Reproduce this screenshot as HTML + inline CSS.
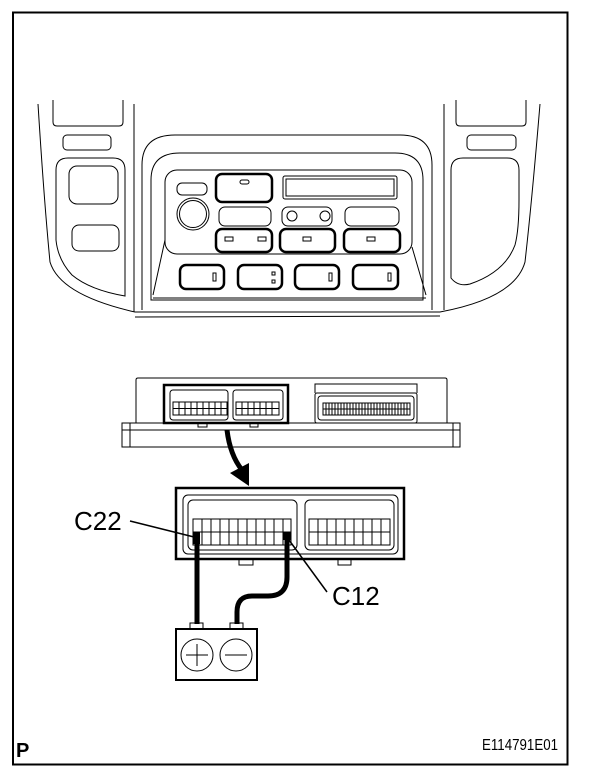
<!DOCTYPE html>
<html><head><meta charset="utf-8"><style>
html,body{margin:0;padding:0;background:#fff;}
svg{display:block;}
text{font-family:"Liberation Sans",Arial,sans-serif;fill:#000;}
</style></head><body>
<svg width="608" height="778" viewBox="0 0 608 778" xmlns="http://www.w3.org/2000/svg">
<rect x="13" y="12.5" width="554.5" height="752" fill="none" stroke="#000" stroke-width="2"/>
<g fill="none" stroke="#000" stroke-width="1">
<!-- dashboard -->
<path d="M38 104 Q44 200 50 262 Q60 295 135 312 L440 312 Q515 298 525 262 Q532 200 540 104"/>
<path d="M134 104 L134 312 M444 104 L444 310"/>
<path d="M135 317 L440 316"/>
<path d="M53 100 L53 122 Q53 126 57 126 L119 126 Q123 126 123 122 L123 100"/>
<path d="M456 100 L456 122 Q456 126 460 126 L522 126 Q526 126 526 122 L526 100"/>
<rect x="63" y="135" width="48" height="15" rx="4"/>
<rect x="467" y="135" width="49" height="15" rx="4"/>
<path d="M56 170 Q56 158 68 158 L113 158 Q125 158 125 170 L125 296 Q90 290 72 275 Q58 260 56 240 Z"/>
<path d="M519 170 Q519 158 507 158 L463 158 Q451 158 451 170 L451 278 Q458 287 470 284 Q505 272 515 245 Q519 230 519 200 Z"/>
<rect x="69" y="166" width="49" height="38" rx="8"/>
<rect x="72" y="225" width="47" height="26" rx="7"/>
<!-- bezel -->
<path d="M142 310 L142 165 Q142 135 175 135 L400 135 Q432 135 432 165 L432 310"/>
<path d="M151 300 L151 180 Q151 153 180 153 L395 153 Q423 153 423 180 L423 300 Z"/>
<rect x="165" y="170" width="247" height="84" rx="12"/>
<path d="M165 240 L153 295 M412 247 L426 295 M153 298 L426 298"/>
<rect x="177" y="183" width="30" height="12" rx="5"/>
<circle cx="193" cy="214" r="16"/><circle cx="193" cy="214" r="13.5"/>
<rect x="283" y="176" width="114" height="23" rx="2"/><rect x="286" y="179" width="108" height="17"/>
<rect x="219" y="207" width="52" height="19" rx="6"/>
<rect x="282" y="207" width="50" height="19" rx="6"/>
<circle cx="292" cy="216" r="5"/><circle cx="325" cy="216" r="5"/>
<rect x="345" y="207" width="54" height="19" rx="6"/>
</g>
<g fill="none" stroke="#000" stroke-width="2.5">
<rect x="216" y="174" width="56" height="28" rx="6"/>
<rect x="216" y="229" width="56" height="23" rx="6"/>
<rect x="280" y="229" width="55" height="23" rx="6"/>
<rect x="344" y="229" width="56" height="23" rx="6"/>
<rect x="180" y="265" width="44" height="24" rx="6"/>
<rect x="238" y="265" width="44" height="24" rx="6"/>
<rect x="295" y="265" width="44" height="24" rx="6"/>
<rect x="353" y="265" width="45" height="24" rx="6"/>
</g>
<g fill="none" stroke="#000" stroke-width="1">
<rect x="240" y="180" width="9" height="4" rx="2"/>
<rect x="225" y="237" width="8" height="4"/><rect x="258" y="237" width="8" height="4"/>
<rect x="303" y="237" width="8" height="4"/><rect x="367" y="237" width="8" height="4"/>
<rect x="213" y="273" width="3" height="8"/><rect x="329" y="273" width="3" height="8"/><rect x="388" y="273" width="3" height="8"/>
<rect x="272" y="272" width="3" height="3"/><rect x="272" y="280" width="3" height="3"/>
<!-- ECU module -->
<path d="M136 423 L136 380 Q136 378 138 378 L445 378 Q447 378 447 380 L447 423"/>
<rect x="122" y="423" width="338" height="24"/>
<path d="M130 423 L130 447 M453 423 L453 447 M122 430 L460 430"/>
<path d="M315 393 L315 384 L417 384 L417 393"/>
<rect x="315" y="393" width="102" height="30" rx="2"/>
<rect x="318" y="396" width="96" height="24" rx="3"/>
<rect x="323" y="403" width="87" height="12"/>
</g>
<rect x="164" y="385" width="124" height="38" fill="none" stroke="#000" stroke-width="2.5"/>
<g fill="none" stroke="#000" stroke-width="1">
<rect x="170" y="390" width="58" height="30" rx="3"/>
<rect x="233" y="390" width="50" height="30" rx="3"/>
<rect x="173" y="402" width="54" height="13"/>
<rect x="236" y="402" width="43" height="13"/>
<path d="M198 423 L198 427 L207 427 L207 423 M250 423 L250 427 L258 427 L258 423"/>
<path d="M173 408.5 H227 M236 408.5 H279 M323 409 H410"/>
<path d="M179 402V415M185 402V415M191 402V415M197 402V415M203 402V415M209 402V415M215 402V415M221 402V415M242 402V415M248 402V415M254 402V415M260 402V415M266 402V415M272 402V415"/>
<path d="M326 403V415M329 403V415M332 403V415M335 403V415M338 403V415M341 403V415M344 403V415M347 403V415M350 403V415M353 403V415M356 403V415M359 403V415M362 403V415M365 403V415M368 403V415M371 403V415M374 403V415M377 403V415M380 403V415M383 403V415M386 403V415M389 403V415M392 403V415M395 403V415M398 403V415M401 403V415M404 403V415M407 403V415"/>
</g>
<!-- arrow -->
<path d="M227 430 Q230 455 242 470" fill="none" stroke="#000" stroke-width="5"/>
<polygon points="230,473 249,463 249,486" fill="#000"/>
<!-- lower connector -->
<rect x="176" y="488" width="228" height="71" fill="none" stroke="#000" stroke-width="2.5"/>
<g fill="none" stroke="#000" stroke-width="1">
<rect x="183" y="495" width="215" height="59" rx="5"/>
<rect x="188" y="500" width="109" height="50" rx="5"/>
<rect x="305" y="500" width="89" height="50" rx="5"/>
<rect x="193" y="519" width="98" height="26"/>
<rect x="309" y="519" width="81" height="26"/>
<path d="M193 532 H291 M309 532 H390"/>
<path d="M202 519V545M211 519V545M220 519V545M229 519V545M238 519V545M247 519V545M256 519V545M265 519V545M274 519V545M283 519V545"/>
<path d="M318 519V545M327 519V545M336 519V545M345 519V545M354 519V545M363 519V545M372 519V545M381 519V545"/>
<path d="M239 559 L239 565 L253 565 L253 559 M338 559 L338 565 L351 565 L351 559"/>
</g>
<rect x="193" y="532" width="7" height="12" fill="#000"/>
<rect x="283" y="532" width="8" height="8" fill="#000"/>
<!-- wires -->
<path d="M197 540 L197 624" fill="none" stroke="#000" stroke-width="5"/>
<path d="M287 540 L287 577 Q287 596 268 596 L252 596 Q237 596 237 612 L237 624" fill="none" stroke="#000" stroke-width="5"/>
<path d="M130 521 L194 537 M289 540 L327 592" fill="none" stroke="#000" stroke-width="1.5"/>
<!-- battery -->
<g fill="none" stroke="#000" stroke-width="1">
<rect x="190" y="623" width="13" height="6"/>
<rect x="230" y="623" width="13" height="6"/>
<rect x="176" y="629" width="81" height="51" stroke-width="2"/>
<circle cx="197" cy="655" r="16"/><circle cx="236" cy="655" r="16"/>
<path d="M186 655 H208 M197 644 V666 M225 655 H247"/>
</g>
<text x="74" y="530" font-size="26">C22</text>
<text x="332" y="605" font-size="26">C12</text>
<text x="16" y="757" font-size="20" font-weight="bold">P</text>
<text x="482" y="750" font-size="16" textLength="76" lengthAdjust="spacingAndGlyphs">E114791E01</text>
</svg>
</body></html>
